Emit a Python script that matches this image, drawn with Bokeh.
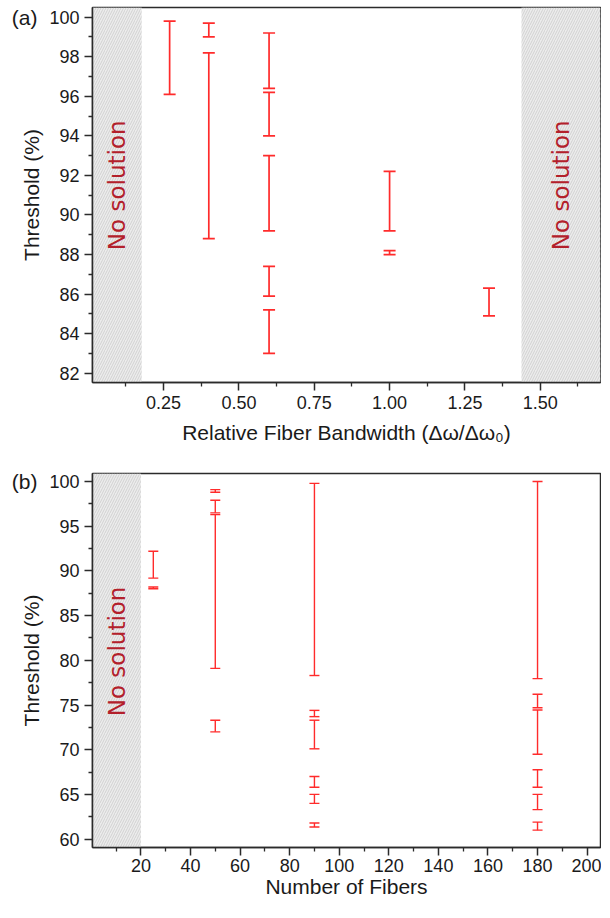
import numpy as np
from bokeh.plotting import figure
from bokeh.models import (Range1d, FixedTicker, BoxAnnotation, ColumnDataSource,
                          NumeralTickFormatter, LinearAxis)
from bokeh.layouts import column
from bokeh.embed import file_html
from bokeh.resources import INLINE
from bokeh.core.properties import value

# ---------------- data: panel (a) ----------------
a_x    = [0.27, 0.40, 0.40, 0.60, 0.60, 0.60, 0.60, 0.60, 1.00, 1.00, 1.33]
a_low  = [96.1, 99.0, 88.8, 96.4, 94.0, 89.2, 85.9, 83.0, 89.2, 88.0, 84.9]
a_high = [99.8, 99.7, 98.2, 99.2, 96.2, 93.0, 87.4, 85.2, 92.2, 88.2, 86.3]
a_xticks = [0.25, 0.50, 0.75, 1.00, 1.25, 1.50]
a_xminor = [0.125, 0.375, 0.625, 0.875, 1.125, 1.375, 1.625]
a_yticks = [82, 84, 86, 88, 90, 92, 94, 96, 98, 100]
a_yminor = [83, 85, 87, 89, 91, 93, 95, 97, 99]
a_xrange = (0.014, 1.70)
a_yrange = (81.53, 100.49)
a_nosol_left = 0.177     # left shaded region ends here
a_nosol_right = 1.438    # right shaded region starts here
a_text_x = [0.096, 1.569]
a_text_y = [91.5, 91.5]

# ---------------- data: panel (b) ----------------
b_x    = [25, 25, 50, 50, 50, 50, 90, 90, 90, 90, 90, 90, 180, 180, 180, 180, 180, 180]
b_low  = [89.2, 88.0, 98.8, 96.5, 79.1, 72.0, 78.3, 73.7, 70.1, 65.8, 64.0, 61.35,
          77.95, 74.7, 69.5, 65.8, 63.3, 61.0]
b_high = [92.2, 88.2, 99.1, 97.9, 96.3, 73.3, 99.8, 74.4, 73.3, 67.0, 65.0, 61.8,
          100.0, 76.2, 74.45, 67.75, 65.0, 61.9]
b_xticks = [20, 40, 60, 80, 100, 120, 140, 160, 180, 200]
b_xminor = [10, 30, 50, 70, 90, 110, 130, 150, 170, 190]
b_yticks = [60, 65, 70, 75, 80, 85, 90, 95, 100]
b_yminor = [62.5, 67.5, 72.5, 77.5, 82.5, 87.5, 92.5, 97.5]
b_xrange = (0.47, 205.4)
b_yrange = (59.06, 100.9)
b_nosol_left = 20
b_text_x = [10.2]
b_text_y = [81.0]

RED = "#ff2b2b"
DARKRED = "#b3202b"
AX = "#2b2b2b"
FONT = "Liberation Sans"


def style(p):
    p.xgrid.visible = False
    p.ygrid.visible = False
    p.outline_line_color = AX
    p.outline_line_width = 1.5
    p.background_fill_color = "white"
    p.border_fill_color = "white"
    for ax in p.axis:
        ax.axis_line_color = AX
        ax.axis_line_width = 1.5
        ax.major_tick_in = 0
        ax.major_tick_out = 8
        ax.minor_tick_in = 0
        ax.minor_tick_out = 4
        ax.major_tick_line_color = AX
        ax.minor_tick_line_color = AX
        ax.major_tick_line_width = 1.5
        ax.minor_tick_line_width = 1.3
        ax.major_label_text_font = FONT
        ax.major_label_text_font_size = "18px"
        ax.major_label_text_color = "#1a1a1a"
        ax.axis_label_text_font = FONT
        ax.axis_label_text_font_size = "21px"
        ax.axis_label_text_font_style = "normal"
        ax.axis_label_text_color = "#1a1a1a"


def errorbars(p, xs, lo, hi, cap, lw):
    src = ColumnDataSource(dict(x=xs, lo=lo, hi=hi))
    p.segment(x0="x", y0="lo", x1="x", y1="hi", source=src, line_color=RED, line_width=lw)
    p.dash(x="x", y="lo", source=src, size=cap, line_color=RED, line_width=lw)
    p.dash(x="x", y="hi", source=src, size=cap, line_color=RED, line_width=lw)


def shade(p, left=None, right=None):
    kw = {}
    if left is not None:
        kw["left"] = left
    if right is not None:
        kw["right"] = right
    box = BoxAnnotation(fill_color="#ececec", fill_alpha=1.0, line_alpha=0,
                        hatch_pattern="/", hatch_color="#cacaca", hatch_scale=5,
                        hatch_weight=0.8, level="underlay", **kw)
    p.add_layout(box)


def nosol(p, xs, ys):
    p.text(x=xs, y=ys, text=["No solution"] * len(xs), angle=np.pi / 2,
           text_align="center", text_baseline="middle",
           text_font=value("DejaVu Sans"), text_font_size="23px", text_color=DARKRED)


def panel_label(p, tick, txt):
    # an outer, line-less left axis carrying only the panel tag next to the top tick
    ax = LinearAxis(ticker=FixedTicker(ticks=[tick], minor_ticks=[]),
                    major_label_overrides={tick: txt},
                    axis_line_alpha=0, major_tick_line_alpha=0, minor_tick_line_alpha=0,
                    major_tick_in=0, major_tick_out=0, minor_tick_in=0, minor_tick_out=0,
                    major_label_standoff=-20,
                    major_label_text_font=FONT, major_label_text_font_size="21px",
                    major_label_text_color="#1a1a1a")
    p.add_layout(ax, "left")


# ---------------- panel (a) ----------------
pa = figure(x_range=Range1d(*a_xrange), y_range=Range1d(*a_yrange),
            frame_width=508, frame_height=375,
            min_border_left=92, min_border_right=1, min_border_top=7, min_border_bottom=81,
            output_backend="svg", toolbar_location=None)
style(pa)
shade(pa, right=a_nosol_left)
shade(pa, left=a_nosol_right)
nosol(pa, a_text_x, a_text_y)
errorbars(pa, a_x, a_low, a_high, cap=12, lw=1.7)
pa.xaxis.ticker = FixedTicker(ticks=a_xticks, minor_ticks=a_xminor)
pa.yaxis.ticker = FixedTicker(ticks=a_yticks, minor_ticks=a_yminor)
pa.xaxis.formatter = NumeralTickFormatter(format="0.00")
pa.xaxis.axis_label = "Relative Fiber Bandwidth (Δω/Δω₀)"
pa.yaxis.axis_label = "Threshold (%)"
pa.xaxis.major_label_standoff = 5
pa.xaxis.axis_label_standoff = 9
pa.yaxis.major_label_standoff = 5
pa.yaxis.axis_label_standoff = 3
panel_label(pa, 100, "(a)")

# ---------------- panel (b) ----------------
pb = figure(x_range=Range1d(*b_xrange), y_range=Range1d(*b_yrange),
            frame_width=508, frame_height=374,
            min_border_left=92, min_border_right=1, min_border_top=10, min_border_bottom=54,
            output_backend="svg", toolbar_location=None)
style(pb)
shade(pb, right=b_nosol_left)
nosol(pb, b_text_x, b_text_y)
errorbars(pb, b_x, b_low, b_high, cap=10, lw=1.4)
pb.xaxis.ticker = FixedTicker(ticks=b_xticks, minor_ticks=b_xminor)
pb.yaxis.ticker = FixedTicker(ticks=b_yticks, minor_ticks=b_yminor)
pb.xaxis.axis_label = "Number of Fibers"
pb.yaxis.axis_label = "Threshold (%)"
pb.xaxis.major_label_standoff = 3
pb.xaxis.axis_label_standoff = 0
pb.yaxis.major_label_standoff = 5
pb.yaxis.axis_label_standoff = 3
panel_label(pb, 100, "(b)")

layout = column(pa, pb, spacing=0)
open("out.html", "w").write(file_html(layout, INLINE))
